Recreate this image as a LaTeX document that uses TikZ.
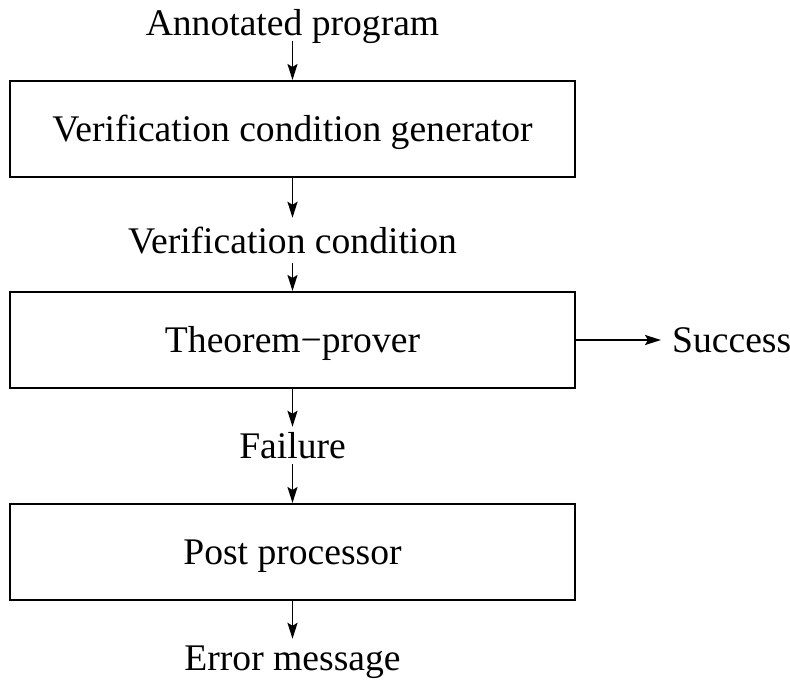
\documentclass[tikz,border=0pt]{standalone}
\usepackage{fontspec}
\setmainfont{Liberation Serif}
\usetikzlibrary{arrows.meta}
\begin{document}
\begin{tikzpicture}[x=1pt,y=-1pt,
  every node/.style={font=\fontsize{37.6}{41}\selectfont},
  stage/.style={draw,line width=2pt,minimum width=565pt,minimum height=96pt,inner sep=0pt,
    text height=25pt,text depth=0pt,anchor=center},
  lbl/.style={inner xsep=0pt,inner ysep=6pt,text height=25pt,text depth=0pt,anchor=base},
  flow/.style={line width=1.8pt,-{Stealth[length=16pt,width=10pt,inset=3pt]}}]
\useasboundingbox (0,0) rectangle (790,680);
\node[lbl] (ann) at (292.5,35) {Annotated program};
\node[stage] (gen) at (292.5,129) {Verification condition generator};
\node[lbl,inner ysep=10pt] (vc) at (292.5,253) {Verification condition};
\node[stage] (tp) at (292.5,340) {Theorem\textminus prover};
\node[lbl,anchor=base west,inner xsep=0pt] (succ) at (672,352.5) {Success};
\node[lbl] (fail) at (292.5,458) {Failure};
\node[stage] (pp) at (292.5,552) {Post processor};
\node[lbl] (err) at (292.5,670) {Error message};
\draw[flow] (ann.south) -- (gen.north);
\draw[flow] (gen.south) -- (vc.north);
\draw[flow] (vc.south) -- (tp.north);
\draw[flow] (tp.east) -- ([xshift=-11pt]succ.west |- tp.east);
\draw[flow] (tp.south) -- (fail.north);
\draw[flow] (fail.south) -- (pp.north);
\draw[flow] (pp.south) -- (err.north);
\end{tikzpicture}
\end{document}
